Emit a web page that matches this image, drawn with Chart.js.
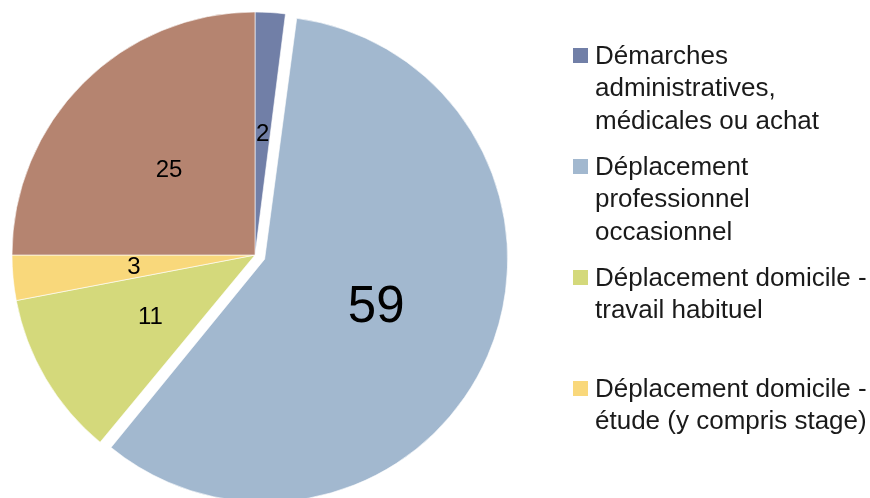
<!DOCTYPE html>
<html>
<head>
<meta charset="utf-8">
<script src="https://cdn.jsdelivr.net/npm/chart.js@4.4.0/dist/chart.umd.min.js"></script>
<style>
html,body{margin:0;padding:0;background:#fff;overflow:hidden}
#wrap{position:relative;width:870px;height:498px;overflow:hidden}
#c{position:absolute;left:0;top:0}
#legend{position:absolute;left:573px;top:0;width:297px;height:498px;overflow:hidden;font-family:"Liberation Sans",Arial,sans-serif;font-size:26px;color:#1a1a1a}
.item{position:absolute;left:0;width:297px}
.sw{position:absolute;left:0;width:15px;height:15px}
.txt{position:absolute;left:22px;top:0;line-height:32.5px;white-space:nowrap}
</style>
</head>
<body>
<div id="wrap">
<canvas id="c" width="870" height="498"></canvas>
<div id="legend"></div>
</div>
<script>
// ---- data ----
const categories = [
  "Démarches administratives, médicales ou achat",
  "Déplacement professionnel occasionnel",
  "Déplacement domicile - travail habituel",
  "Déplacement domicile - étude (y compris stage)",
  "Autre"
];
const legendLines = [
  ["Démarches", "administratives,", "médicales ou achat"],
  ["Déplacement", "professionnel", "occasionnel"],
  ["Déplacement domicile -", "travail habituel"],
  ["Déplacement domicile -", "étude (y compris stage)"],
  ["Autre"]
];
const values = [2, 59, 11, 3, 25];
const colors = ["#717fa7", "#a2b8cf", "#d4d97b", "#f9d87b", "#b58470"];

// ---- legend (HTML, real text) ----
const legend = document.getElementById("legend");
const slot = 111, firstLineCenter = 55, lineH = 32.5;
categories.forEach((cat, i) => {
  const centerY = firstLineCenter + i * slot;
  const blockH = legendLines[i].length * lineH;
  if (centerY - lineH / 2 + blockH > 498) return; // off the picture
  const item = document.createElement("div");
  item.className = "item";
  item.style.top = (centerY - lineH / 2) + "px";
  const sw = document.createElement("div");
  sw.className = "sw";
  sw.style.background = colors[i];
  sw.style.top = (lineH / 2 - 7) + "px";
  const txt = document.createElement("div");
  txt.className = "txt";
  txt.innerHTML = legendLines[i].join("<br>");
  item.appendChild(sw);
  item.appendChild(txt);
  legend.appendChild(item);
});

// Chart.js v4 grows an offset arc's radius by the same amount it shifts it;
// keep the exploded slice at the common radius.
const keepRadius = {
  id: "keepRadius",
  afterUpdate(chart) {
    const meta = chart.getDatasetMeta(0);
    meta.data.forEach((arc) => {
      const shift = (arc.options.offset || 0) / 4;
      if (shift) arc.outerRadius = meta.controller.outerRadius - shift;
    });
  }
};

// ---- value labels plugin ----
const valueLabels = {
  id: "valueLabels",
  afterDatasetsDraw(chart) {
    const ctx = chart.ctx;
    const meta = chart.getDatasetMeta(0);
    const baseR = meta.controller.outerRadius;
    const maxV = Math.max(...values);
    ctx.save();
    ctx.fillStyle = "#000";
    ctx.textAlign = "center";
    ctx.textBaseline = "middle";
    meta.data.forEach((arc, i) => {
      const a = (arc.startAngle + arc.endAngle) / 2;
      const shift = (arc.options.offset || 0) / 4;
      const r = baseR / 2 + shift;
      const px = arc.x + Math.cos(a) * r;
      const py = arc.y + Math.sin(a) * r;
      const big = values[i] === maxV;
      ctx.font = (big ? 51 : 24) + 'px "Liberation Sans", Arial, sans-serif';
      ctx.fillText(String(values[i]), px, py + 1);
    });
    ctx.restore();
  }
};

new Chart(document.getElementById("c"), {
  type: "pie",
  data: {
    labels: categories,
    datasets: [{
      data: values,
      backgroundColor: colors,
      borderColor: "rgba(255,255,255,0.6)",
      borderWidth: 1,
      offset: (c) => (c.dataIndex === 1 ? 42 : 0),
      clip: false
    }]
  },
  options: {
    responsive: false,
    animation: false,
    events: [],
    devicePixelRatio: 1,
    radius: 243,
    layout: { padding: { left: 0, right: 360, top: 12, bottom: 0 } },
    plugins: {
      legend: { display: false },
      tooltip: { enabled: false }
    }
  },
  plugins: [keepRadius, valueLabels]
});
</script>
</body>
</html>
